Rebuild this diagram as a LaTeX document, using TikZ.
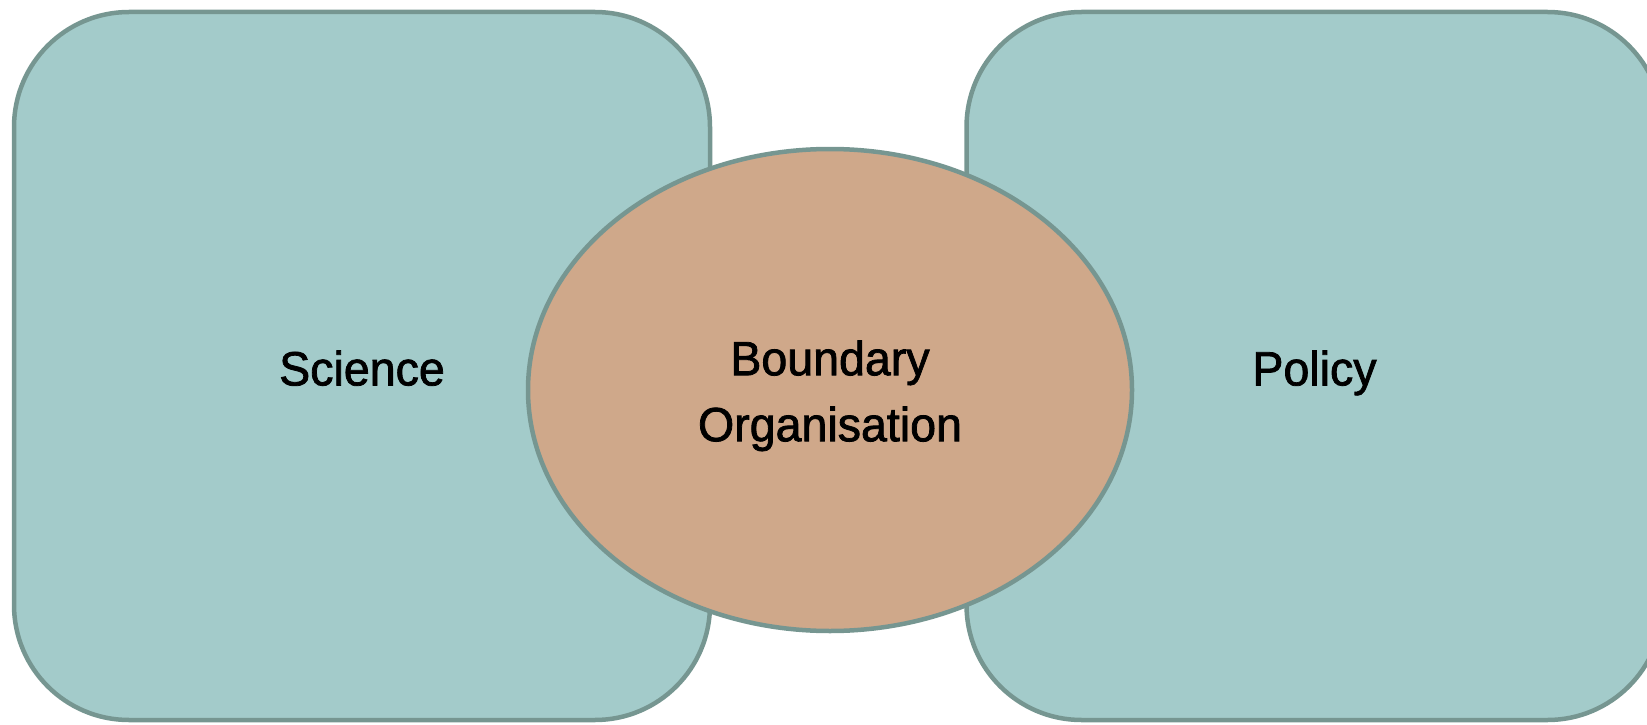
\documentclass[tikz,border=0pt]{standalone}
\usepackage{fontspec}
\newfontfamily\labelfont{Liberation Sans}[FakeBold=1.6, FakeStretch=0.97]
\usetikzlibrary{shapes.geometric, positioning}
\definecolor{fieldfill}{RGB}{163,203,202}
\definecolor{edgegrey}{RGB}{118,150,145}
\definecolor{brokerfill}{RGB}{207,168,138}

\begin{document}
\begin{tikzpicture}[x=1pt, y=-1pt, line width=4.5pt, font=\labelfont\fontsize{48}{66}\selectfont,
  field/.style={rectangle, rounded corners=115pt, draw=edgegrey, fill=fieldfill, minimum width=696pt, minimum height=708pt, text depth=0pt},
  broker/.style={ellipse, draw=edgegrey, fill=brokerfill, minimum width=604pt, minimum height=482pt, inner sep=0pt}]
\useasboundingbox (0,0) rectangle (1647,725);
\clip (0,0) rectangle (1647,725);
\node[field]  (science) at (362,366)         {\raisebox{-4pt}{Science}};
\node[field]  (policy)  [right=252pt of science] {\raisebox{-4pt}{Policy}};
\node[broker] (boundary) at (830,390)        {\raisebox{-5pt}[\height][\depth]{\begin{tabular}{@{}c@{}}Boundary\\Organisation\end{tabular}}};
\end{tikzpicture}
\end{document}
